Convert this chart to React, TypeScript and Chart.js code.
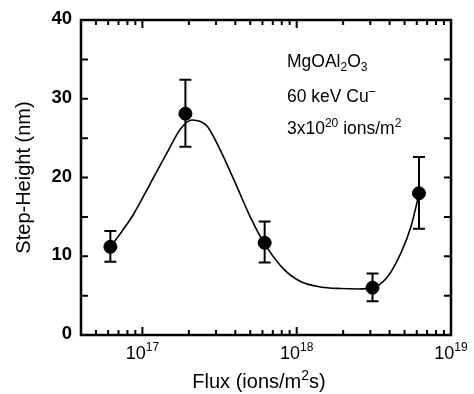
import React, { useEffect, useRef } from 'react';
import { Chart, registerables } from 'chart.js';

Chart.register(...registerables);

// Measured data points
const fluxValues = [6.2e16, 1.9e17, 6.2e17, 3.1e18, 6.2e18];
const stepHeights = [11.2, 28.1, 11.7, 6.0, 18.0];
const errorHigh = [13.2, 32.4, 14.4, 7.8, 22.6];
const errorLow = [9.3, 23.9, 9.2, 4.3, 13.5];

// Guide-to-the-eye curve
const fitFlux = [6.2e16, 7.2e16, 8.8e16, 1.13e17, 1.44e17, 1.77e17, 2.1e17, 2.38e17, 2.63e17, 3.05e17, 3.92e17, 5.0e17, 6.1e17, 8.3e17, 1.06e18, 1.43e18, 1.93e18, 2.5e18, 3.1e18, 3.88e18, 4.73e18, 5.5e18, 6.22e18];
const fitHeight = [11.2, 12.9, 15.4, 19.3, 23.1, 26.2, 27.3, 27.1, 26.5, 24.3, 19.7, 15.0, 11.8, 8.3, 6.8, 6.1, 5.9, 5.85, 6.0, 7.4, 10.4, 13.75, 18.0];

// Axis ticks / labels
const yTickValues = [0, 10, 20, 30, 40];
const yMinorValues = [5, 15, 25, 35];
const xDecadeExponents = [17, 18, 19];
const xTickBase = '10';

const xTitleParts = [
  { t: 'Flux (ions/m', s: 0 },
  { t: '2', s: 1 },
  { t: 's)', s: 0 },
];
const yTitle = 'Step-Height (nm)';

const annotationLines = [
  [{ t: 'MgOAl', s: 0 }, { t: '2', s: -1 }, { t: 'O', s: 0 }, { t: '3', s: -1 }],
  [{ t: '60 keV Cu', s: 0 }, { t: '\u2013', s: 1 }],
  [{ t: '3x10', s: 0 }, { t: '20', s: 1 }, { t: ' ions/m', s: 0 }, { t: '2', s: 1 }],
];

const FONT = '"Liberation Sans", Arial, Helvetica, sans-serif';

type Seg = { t: string; s: number };

function drawSegs(ctx: CanvasRenderingContext2D, segs: Seg[], x: number, y: number, size: number, align: 'left' | 'center') {
  const small = Math.round(size * 0.68);
  let total = 0;
  for (const sg of segs) {
    ctx.font = `${sg.s === 0 ? size : small}px ${FONT}`;
    total += ctx.measureText(sg.t).width;
  }
  let cx = align === 'center' ? x - total / 2 : x;
  ctx.textAlign = 'left';
  ctx.textBaseline = 'alphabetic';
  for (const sg of segs) {
    ctx.font = `${sg.s === 0 ? size : small}px ${FONT}`;
    const dy = sg.s === 1 ? -size * 0.42 : sg.s === -1 ? size * 0.25 : 0;
    ctx.fillText(sg.t, cx, y + dy);
    cx += ctx.measureText(sg.t).width;
  }
}

const framePlugin = {
  id: 'frameAndErrors',
  beforeDatasetsDraw(chart: any) {
    const ctx = chart.ctx as CanvasRenderingContext2D;
    const xs = chart.scales.x;
    const ys = chart.scales.y;
    ctx.save();
    ctx.strokeStyle = '#000';
    ctx.lineWidth = 2;
    for (let i = 0; i < fluxValues.length; i++) {
      const px = xs.getPixelForValue(fluxValues[i]);
      const pHi = ys.getPixelForValue(errorHigh[i]);
      const pLo = ys.getPixelForValue(errorLow[i]);
      ctx.beginPath();
      ctx.moveTo(px, pHi);
      ctx.lineTo(px, pLo);
      ctx.moveTo(px - 6, pHi);
      ctx.lineTo(px + 6, pHi);
      ctx.moveTo(px - 6, pLo);
      ctx.lineTo(px + 6, pLo);
      ctx.stroke();
    }
    ctx.restore();
  },
  afterDatasetsDraw(chart: any) {
    const ctx = chart.ctx as CanvasRenderingContext2D;
    const { left, right, top, bottom } = chart.chartArea;
    const xs = chart.scales.x;
    const ys = chart.scales.y;
    ctx.save();
    ctx.strokeStyle = '#000';
    ctx.fillStyle = '#000';
    ctx.lineWidth = 2.5;
    ctx.strokeRect(left, top, right - left, bottom - top);

    // y ticks (inward, both sides)
    ctx.lineWidth = 2;
    ctx.beginPath();
    for (const v of [...yTickValues, ...yMinorValues]) {
      const py = ys.getPixelForValue(v);
      ctx.moveTo(left, py);
      ctx.lineTo(left + 7, py);
      ctx.moveTo(right, py);
      ctx.lineTo(right - 7, py);
    }
    ctx.stroke();

    // x ticks (log, inward, top & bottom)
    ctx.beginPath();
    for (let d = 16; d <= 19; d++) {
      for (let m = 1; m <= 9; m++) {
        const v = m * Math.pow(10, d);
        if (v < xs.min || v > xs.max) continue;
        const px = xs.getPixelForValue(v);
        const len = m === 1 ? 8 : 5;
        ctx.moveTo(px, bottom);
        ctx.lineTo(px, bottom - len);
        ctx.moveTo(px, top);
        ctx.lineTo(px, top + len);
      }
    }
    ctx.stroke();

    // y tick labels
    ctx.font = `bold 18.5px ${FONT}`;
    ctx.textAlign = 'right';
    ctx.textBaseline = 'alphabetic';
    for (const v of yTickValues) {
      const py = ys.getPixelForValue(v);
      ctx.fillText(String(v), left - 9, py + 4);
    }

    // x tick labels
    for (const e of xDecadeExponents) {
      const px = xs.getPixelForValue(Math.pow(10, e));
      drawSegs(ctx, [{ t: xTickBase, s: 0 }, { t: String(e), s: 1 }], px, bottom + 24, 18, 'center');
    }

    // axis titles
    drawSegs(ctx, xTitleParts, (left + right) / 2 - 7, 388, 20, 'center');
    ctx.save();
    ctx.translate(24, (top + bottom) / 2);
    ctx.rotate(-Math.PI / 2);
    ctx.font = `20px ${FONT}`;
    ctx.textAlign = 'center';
    ctx.textBaseline = 'middle';
    ctx.fillText(yTitle, 0, 0);
    ctx.restore();

    // annotation
    const baselines = [67, 102, 134];
    annotationLines.forEach((line, i) => drawSegs(ctx, line, 287, baselines[i], 17.5, 'left'));
    ctx.restore();
  },
};

export default function App() {
  const ref = useRef<HTMLCanvasElement>(null);
  useEffect(() => {
    const canvas = ref.current!;
    const chart = new Chart(canvas, {
      type: 'scatter',
      data: {
        datasets: [
          {
            label: 'Step-Height',
            data: fluxValues.map((x, i) => ({ x, y: stepHeights[i] })),
            pointRadius: 6.5,
            pointBackgroundColor: '#000',
            pointBorderColor: '#000',
            showLine: false,
          },
          {
            label: 'Fit',
            data: fitFlux.map((x, i) => ({ x, y: fitHeight[i] })),
            showLine: true,
            borderColor: '#000',
            borderWidth: 1.6,
            pointRadius: 0,
            cubicInterpolationMode: 'monotone',
          },
        ],
      },
      options: {
        responsive: false,
        animation: false,
        layout: { padding: { left: 81, top: 20, right: 23, bottom: 59 } },
        plugins: { legend: { display: false }, tooltip: { enabled: false } },
        scales: {
          x: { type: 'logarithmic', min: 4e16, max: 1e19, display: false },
          y: { type: 'linear', min: 0, max: 40, display: false },
        },
      },
      plugins: [framePlugin],
    } as any);
    return () => chart.destroy();
  }, []);
  return (
    <div style={{ position: 'fixed', left: 0, top: 0, width: 474, height: 394, background: '#fff' }}>
      <canvas ref={ref} width={474} height={394} style={{ display: 'block', width: 474, height: 394 }} />
    </div>
  );
}
